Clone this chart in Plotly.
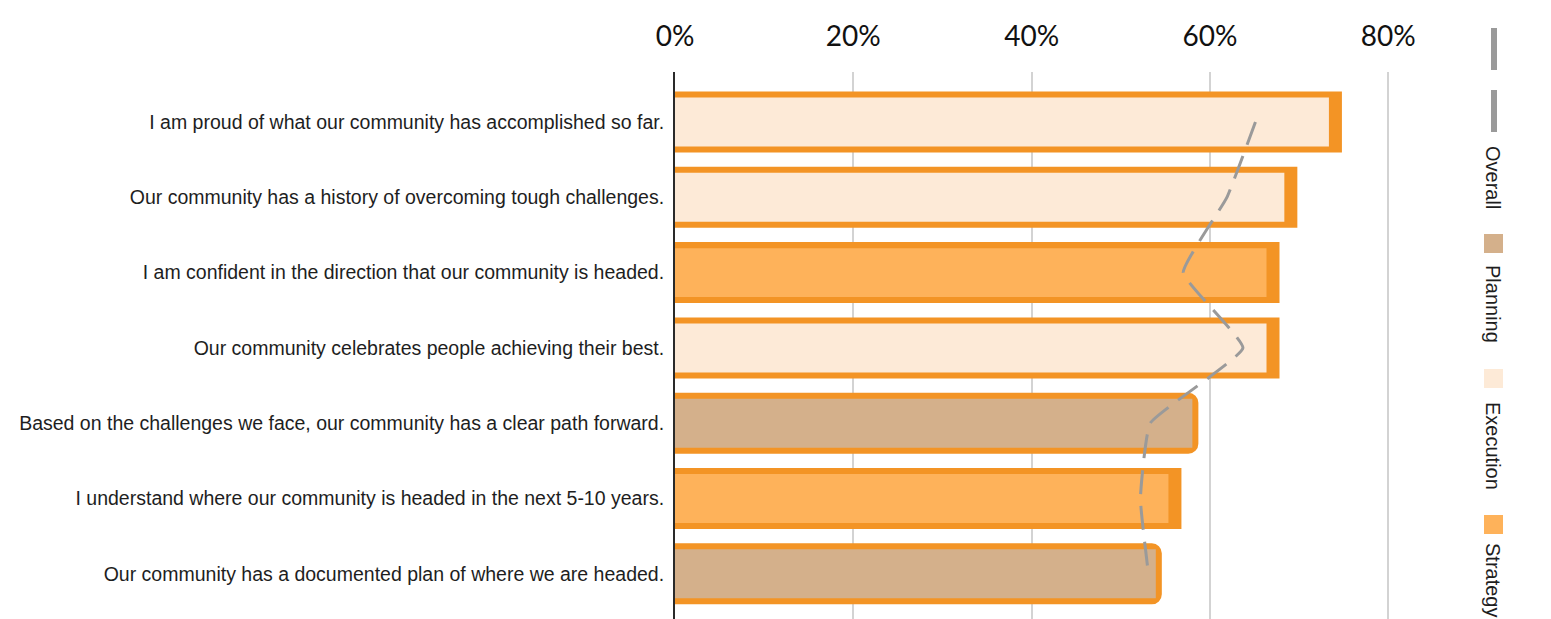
import plotly.graph_objects as go

# Survey statements (top to bottom) and their category
statements = [
    "I am proud of what our community has accomplished so far.",
    "Our community has a history of overcoming tough challenges.",
    "I am confident in the direction that our community is headed.",
    "Our community celebrates people achieving their best.",
    "Based on the challenges we face, our community has a clear path forward.",
    "I understand where our community is headed in the next 5-10 years.",
    "Our community has a documented plan of where we are headed.",
]
categories = ["Execution", "Execution", "Strategy", "Execution", "Planning", "Strategy", "Planning"]

# Percent agreeing, per statement, and the overall benchmark
agree_pct = [74.8, 69.8, 67.8, 67.8, 58.7, 56.8, 54.6]
overall_pct = [65.1, 61.9, 57.0, 63.7, 53.3, 52.2, 53.1]

tick_vals = [0, 20, 40, 60, 80]
tick_text = ["0%", "20%", "40%", "60%", "80%"]
legend_items = ["Planning", "Execution", "Strategy"]

# Styling
W, H = 1551, 619
ML, MR, MT, MB = 675, 111, 72, 0
X_MAX = 85.8
BORDER = "#F39425"
FILL = {"Planning": "#D4B08B", "Execution": "#FDEAD7", "Strategy": "#FEB25A"}
LINE_GREY = "#9A9A9A"
TEXT = "#1E1E1E"

px_per_unit = (W - ML - MR) / X_MAX
right_inset = {"Planning": 6 / px_per_unit, "Execution": 13 / px_per_unit, "Strategy": 13 / px_per_unit}

fig = go.Figure()

for cat in legend_items:
    idx = [i for i, c in enumerate(categories) if c == cat]
    ys = [statements[i] for i in idx]
    vals = [agree_pct[i] for i in idx]
    rounded = 10 if cat == "Planning" else 0
    # orange outline bar
    fig.add_trace(go.Bar(
        x=vals, y=ys, orientation="h", width=0.81,
        marker=dict(color=BORDER, line=dict(width=0), cornerradius=rounded),
        showlegend=False, hoverinfo="skip",
    ))
    # inner fill
    fig.add_trace(go.Bar(
        x=[v - right_inset[cat] for v in vals], y=ys, orientation="h", width=0.65,
        marker=dict(color=FILL[cat], line=dict(width=0), cornerradius=rounded // 2),
        name=cat, showlegend=False,
    ))

fig.add_trace(go.Scatter(
    x=overall_pct, y=statements, mode="lines",
    line=dict(color=LINE_GREY, width=3, dash="24px,12px", shape="spline", smoothing=0.35),
    name="Overall", showlegend=False,
))

fig.update_layout(
    width=W, height=H,
    margin=dict(l=ML, r=MR, t=MT, b=MB, pad=0),
    barmode="overlay",
    plot_bgcolor="white", paper_bgcolor="white",
    font=dict(family="Liberation Sans, Arial, sans-serif", color=TEXT),
    showlegend=False,
)

fig.update_xaxes(
    side="top", range=[0, X_MAX],
    tickmode="array", tickvals=tick_vals, ticktext=tick_text,
    tickfont=dict(family="Lato, Open Sans, sans-serif", size=28, color="#111"),
    ticklabelstandoff=19,
    showgrid=True, gridcolor="#D3D3D3", gridwidth=1.5,
    zeroline=False, showline=False, ticks="",
)
fig.update_yaxes(
    categoryorder="array", categoryarray=statements,
    range=[6.6, -0.664],
    tickfont=dict(size=19.5, color=TEXT),
    ticklabelstandoff=5,
    showline=True, linecolor="#2A2A2A", linewidth=2,
    showgrid=False, zeroline=False, ticks="",
)

# Vertical legend on the right edge
def px_x(p):
    return (p - ML) / (W - ML - MR)

def px_y(p):
    return (H - MB - p) / (H - MT - MB)

shapes = []
for y0, y1 in [(28, 70), (90, 132)]:
    shapes.append(dict(type="rect", xref="paper", yref="paper",
                       x0=px_x(1491), x1=px_x(1497), y0=px_y(y1), y1=px_y(y0),
                       fillcolor=LINE_GREY, line=dict(width=0)))
square_tops = {"Planning": 234, "Execution": 369, "Strategy": 515}
for cat, top in square_tops.items():
    shapes.append(dict(type="rect", xref="paper", yref="paper",
                       x0=px_x(1484), x1=px_x(1503), y0=px_y(top + 19), y1=px_y(top),
                       fillcolor=FILL[cat], line=dict(width=0)))
fig.update_layout(shapes=shapes)

label_centers = {"Overall": 177, "Planning": 304, "Execution": 446, "Strategy": 580}
for name, cy in label_centers.items():
    fig.add_annotation(
        text=name, xref="paper", yref="paper", x=px_x(1493), y=px_y(cy),
        xanchor="center", yanchor="middle", textangle=90, showarrow=False,
        font=dict(size=20, color=TEXT),
    )

fig.write_html("out.html")
